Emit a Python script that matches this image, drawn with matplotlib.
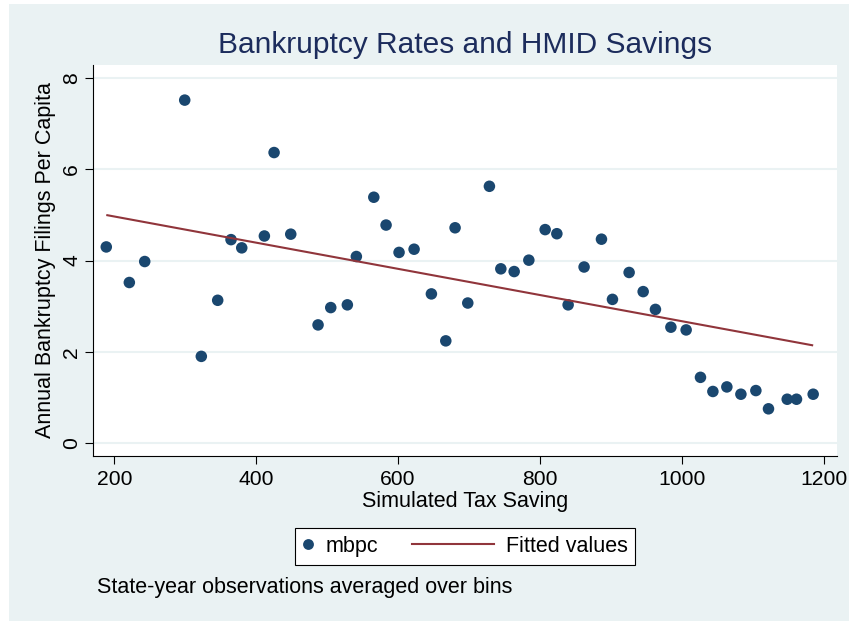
import matplotlib
matplotlib.use("Agg")
import matplotlib.pyplot as plt
from matplotlib.lines import Line2D
from matplotlib.patches import Rectangle
from matplotlib.legend_handler import HandlerBase, HandlerLine2D
import numpy as np

# ---- data ----
tax_saving = [188.7, 221.2, 242.9, 299.3, 322.7, 345.8, 364.6, 379.7, 411.6, 425.3,
              448.8, 487.3, 505.2, 528.6, 541.3, 565.9, 583.2, 601.5, 622.7, 647.1,
              667.4, 680.5, 698.4, 728.9, 745.0, 763.8, 784.5, 807.5, 824.0, 839.9,
              862.4, 886.9, 902.4, 925.9, 945.7, 963.0, 984.8, 1006.3, 1026.5, 1044.0,
              1063.7, 1083.5, 1104.6, 1122.4, 1148.8, 1161.9, 1185.4]
mbpc = [4.30, 3.52, 3.98, 7.52, 1.90, 3.13, 4.46, 4.28, 4.54, 6.37,
        4.58, 2.59, 2.97, 3.03, 4.09, 5.39, 4.78, 4.18, 4.25, 3.27,
        2.24, 4.72, 3.07, 5.63, 3.82, 3.76, 4.01, 4.68, 4.59, 3.03,
        3.86, 4.47, 3.15, 3.74, 3.32, 2.93, 2.54, 2.48, 1.44, 1.13,
        1.23, 1.07, 1.15, 0.75, 0.96, 0.96, 1.07]
fit_x = [188.7, 1185.4]
fit_y = [5.00, 2.14]
x_ticks = [200, 400, 600, 800, 1000, 1200]
y_ticks = [0, 2, 4, 6, 8]

title = "Bankruptcy Rates and HMID Savings"
xlabel = "Simulated Tax Saving"
ylabel = "Annual Bankruptcy Filings Per Capita"
note = "State-year observations averaged over bins"

# ---- style ----
BG = "#EAF2F3"
NAVY = "#1A476F"
TITLE_C = "#1C2C5C"
MAROON = "#90353B"
plt.rcParams['font.family'] = ['Liberation Sans', 'DejaVu Sans']

W, H = 849, 621
fig = plt.figure(figsize=(W / 100, H / 100), dpi=100, facecolor="white")
# light graph region (white margin at left/top)
fig.add_artist(Rectangle((9 / W, 0), 1 - 9 / W, 1 - 4 / H, transform=fig.transFigure,
                         facecolor=BG, edgecolor="none", zorder=-10))

left, right, top, bottom = 93.3, 837.0, 65.0, 456.0
ax = fig.add_axes([left / W, 1 - bottom / H, (right - left) / W, (bottom - top) / H])
ax.set_facecolor("white")

ax.set_xlim(170.4, 1219.0)
ax.set_ylim(-0.285, 8.29)
ax.set_xticks(x_ticks)
ax.set_yticks(y_ticks)
ax.grid(axis='y', color=BG, lw=1.5, zorder=0)
ax.set_axisbelow(True)

for s in ['top', 'right']:
    ax.spines[s].set_visible(False)
for s in ['left', 'bottom']:
    ax.spines[s].set_color("black")
    ax.spines[s].set_linewidth(0.8)

ax.tick_params(axis='both', length=5.8, width=0.8, color="black", labelsize=15.2,
               labelcolor="black")
ax.tick_params(axis='x', pad=4.0)
ax.tick_params(axis='y', pad=2.8, labelrotation=90)
for lab in ax.get_yticklabels():
    lab.set_va('center')

ax.scatter(tax_saving, mbpc, s=8.3 ** 2, color=NAVY, edgecolors='none', zorder=3)
ax.plot(fit_x, fit_y, color=MAROON, lw=1.5, zorder=4, solid_capstyle='butt')

ax.set_xlabel(xlabel, fontsize=15.5, va='center')
ax.xaxis.set_label_coords(0.5, (bottom - 502) / (bottom - top))
ax.set_ylabel(ylabel, fontsize=15.5, va='center')
ax.yaxis.set_label_coords((45.5 - left) / (right - left), 0.5)

fig.text(465 / W, 1 - 45 / H, title, fontsize=21.5, color=TITLE_C, ha='center', va='center')
fig.text(97 / W, 1 - 588 / H, note, fontsize=15.5, color="black", ha='left', va='center')


# legend
class LongLine(HandlerBase):
    def create_artists(self, legend, orig_handle, xdescent, ydescent, width, height,
                       fontsize, trans):
        y = height / 2 - ydescent
        ln = Line2D([width - xdescent - 59, width - xdescent], [y, y],
                    color=orig_handle.get_color(), lw=orig_handle.get_linewidth())
        ln.set_transform(trans)
        return [ln]


h_dot = Line2D([], [], marker='o', ls='none', color=NAVY, markersize=7.8,
               markeredgewidth=0)
h_line = Line2D([], [], color=MAROON, lw=1.5)
leg = fig.legend([h_dot, h_line], ["mbpc", "Fitted values"], ncol=2,
                 loc='center', bbox_to_anchor=(465 / W, 1 - 546.2 / H),
                 bbox_transform=fig.transFigure, fontsize=15.5,
                 handlelength=0.557, handletextpad=0.525, columnspacing=4.83,
                 borderpad=0.37, numpoints=1, fancybox=False, framealpha=1,
                 edgecolor="black", facecolor="white",
                 handler_map={h_line: LongLine(), h_dot: HandlerLine2D(numpoints=1)})
leg.get_frame().set_linewidth(0.8)

fig.savefig("out.png", dpi=100, facecolor=fig.get_facecolor())
